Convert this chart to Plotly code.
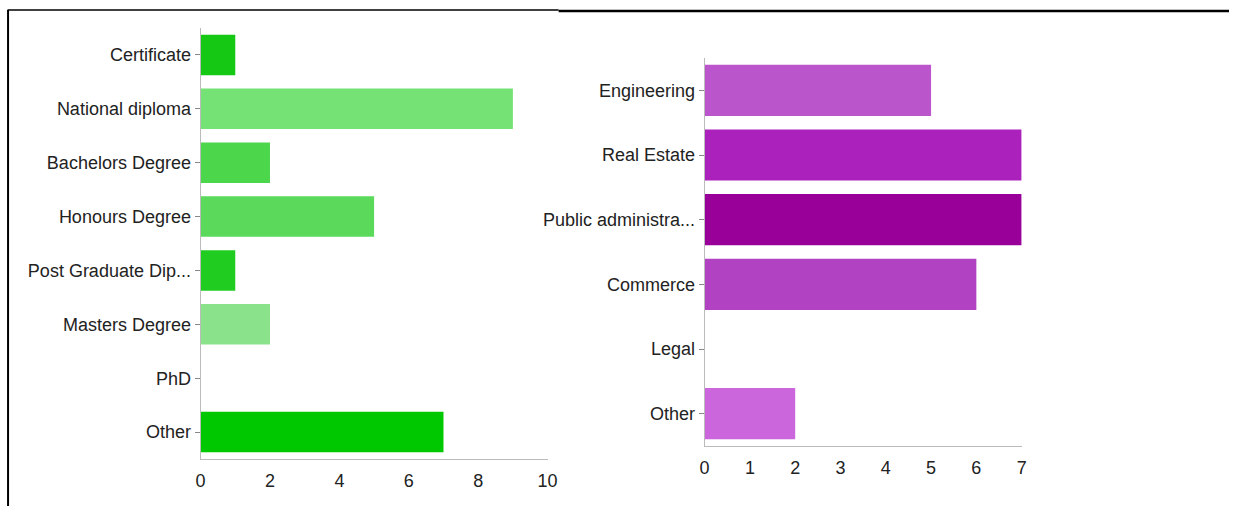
import plotly.graph_objects as go

W, H = 1239, 506

edu_labels = ["Certificate", "National diploma", "Bachelors Degree", "Honours Degree",
              "Post Graduate Dip...", "Masters Degree", "PhD", "Other"]
edu_values = [1, 9, 2, 5, 1, 2, 0, 7]
edu_colors = ["#14c814", "#74e274", "#4cd64c", "#5ad95a", "#20cc20", "#8ae28a", "#8ae28a", "#00c800"]
edu_ticks = [0, 2, 4, 6, 8, 10]

field_labels = ["Engineering", "Real Estate", "Public administra...", "Commerce", "Legal", "Other"]
field_values = [5, 7, 7, 6, 0, 2]
field_colors = ["#bb55cc", "#aa22bb", "#990099", "#b143c2", "#c060d0", "#cc66dd"]
field_ticks = [0, 1, 2, 3, 4, 5, 6, 7]

FONT = "Liberation Sans Narrow, Arial Narrow, Liberation Sans, sans-serif"
FS = 18

fig = go.Figure()
fig.add_trace(go.Bar(y=edu_labels, x=edu_values, orientation="h", width=0.75,
                     marker=dict(color=edu_colors, line=dict(width=0)),
                     xaxis="x", yaxis="y", showlegend=False))
fig.add_trace(go.Bar(y=field_labels, x=field_values, orientation="h", width=0.79,
                     marker=dict(color=field_colors, line=dict(width=0)),
                     xaxis="x2", yaxis="y2", showlegend=False))

# horizontal correction measured from the rendered output
SX, BX = 0.9878, 4.45


def px_x(v):
    return min(max((v - BX) / SX / W, 0), 1)


def px_y(v):
    return 1 - v / H


common_x = dict(showgrid=False, zeroline=False, showline=True, linecolor="#bbbbbb",
                linewidth=1, ticks="outside", ticklen=5, tickcolor="rgba(0,0,0,0)",
                tickfont=dict(size=FS, color="#222222", family=FONT),
                fixedrange=True)
common_y = dict(showgrid=False, zeroline=False, showline=True, linecolor="#bbbbbb",
                linewidth=1, ticks="outside", ticklen=5, tickcolor="#888888",
                tickfont=dict(size=FS, color="#222222", family=FONT),
                autorange="reversed", type="category")

fig.update_layout(
    width=W, height=H,
    margin=dict(l=0, r=0, t=0, b=0),
    paper_bgcolor="white", plot_bgcolor="white",
    font=dict(family=FONT, size=FS, color="#222222"),
    xaxis=dict(domain=[px_x(200), px_x(547)], range=[0, 10], tickvals=edu_ticks,
               anchor="y", **common_x),
    yaxis=dict(domain=[px_y(459), px_y(28)], anchor="x", **common_y),
    xaxis2=dict(domain=[px_x(704), px_x(1021)], range=[0, 7], tickvals=field_ticks,
                anchor="y2", **common_x),
    yaxis2=dict(domain=[px_y(446), px_y(58)], anchor="x2", **common_y),
)

# frame lines
fig.add_shape(type="line", xref="paper", yref="paper", x0=px_x(7.5), x1=px_x(7.5),
              y0=px_y(10), y1=0, line=dict(color="black", width=2))
fig.add_shape(type="line", xref="paper", yref="paper", x0=px_x(7), x1=px_x(558),
              y0=px_y(10), y1=px_y(10), line=dict(color="black", width=1.5))
fig.add_shape(type="line", xref="paper", yref="paper", x0=px_x(558), x1=1,
              y0=px_y(11), y1=px_y(11), line=dict(color="black", width=2.5))

fig.write_html(
    "out.html",
    config={"displayModeBar": False},
    post_script=(
        "document.body.style.margin='0';"
        "document.body.style.overflow='hidden';"
        "document.documentElement.style.overflow='hidden';"
    ),
)
